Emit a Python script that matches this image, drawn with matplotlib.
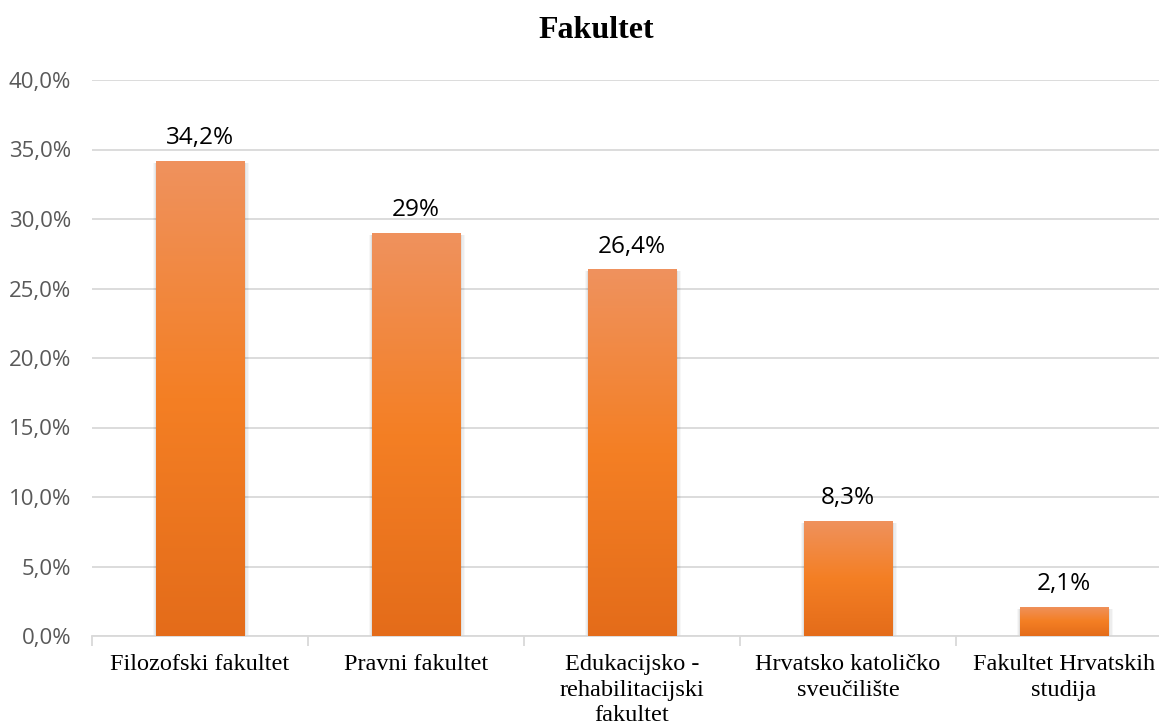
import matplotlib
matplotlib.use('Agg')
import matplotlib.pyplot as plt
import numpy as np
from matplotlib.colors import LinearSegmentedColormap
from matplotlib.ticker import FuncFormatter

kategorije = ['Filozofski fakultet', 'Pravni fakultet', 'Edukacijsko -\nrehabilitacijski\nfakultet',
              'Hrvatsko katoličko\nsveučilište', 'Fakultet Hrvatskih\nstudija']
vrijednosti = [34.2, 29.0, 26.4, 8.3, 2.1]
oznake = ['34,2%', '29%', '26,4%', '8,3%', '2,1%']

W, H = 1159, 728
fig = plt.figure(figsize=(W / 100, H / 100), dpi=100)
ax = fig.add_axes([92 / W, 92 / H, 1080 / W, 556 / H])

cmap = LinearSegmentedColormap.from_list('nar', ['#E46C1A', '#F47F24', '#EF925E'])
grad = np.linspace(0, 1, 256).reshape(-1, 1)
sirina = 0.41

x = np.arange(len(kategorije))
for i, v in enumerate(vrijednosti):
    # sjena
    for k, a in enumerate([0.05, 0.04, 0.03]):
        d = 0.006 * (k + 1)
        ax.bar(x[i] + 0.004, v, width=sirina + 2 * d, bottom=-0.15, color='black',
               alpha=a, linewidth=0, zorder=2)
    b = ax.bar(x[i], v, width=sirina, color='none', linewidth=0, zorder=3)[0]
    im = ax.imshow(grad, cmap=cmap, aspect='auto', origin='lower',
                   extent=[x[i] - sirina / 2, x[i] + sirina / 2, 0, v], zorder=3)
    im.set_clip_path(b)
    ax.text(x[i], v + 0.75, oznake[i], ha='center', va='bottom', fontsize=17.5,
            family='Open Sans', color='black')

ax.set_xlim(-0.5, len(kategorije) - 0.5)
ax.set_ylim(0, 40)
ax.set_yticks(np.arange(0, 41, 5))
ax.yaxis.set_major_formatter(FuncFormatter(lambda v, p: f'{v:.1f}%'.replace('.', ',')))
ax.grid(axis='y', color='#D9D9D9', linewidth=1.3, zorder=0)
ax.set_axisbelow(True)
for s in ['top', 'right', 'left']:
    ax.spines[s].set_visible(False)
ax.spines['bottom'].set_color('#D9D9D9')
ax.spines['bottom'].set_linewidth(1.3)

ax.set_xticks(np.arange(-0.5, len(kategorije), 1))
ax.set_xticklabels([])
ax.set_xticks(x, minor=True)
ax.set_xticklabels(kategorije, minor=True, fontsize=17.5, family='Liberation Serif',
                   linespacing=1.28, va='top')
ax.tick_params(axis='x', which='major', length=7, color='#D9D9D9', width=1.3)
ax.tick_params(axis='x', which='minor', length=0, pad=13)
ax.tick_params(axis='y', length=0, pad=15, labelsize=16, labelcolor='#595959')
for t in ax.get_yticklabels():
    t.set_family('Open Sans')

fig.text(596 / W, 1 - 31 / H, 'Fakultet', ha='center', va='center', fontsize=23,
         fontweight='bold', family='Liberation Serif')

plt.savefig('out.png', dpi=100)
